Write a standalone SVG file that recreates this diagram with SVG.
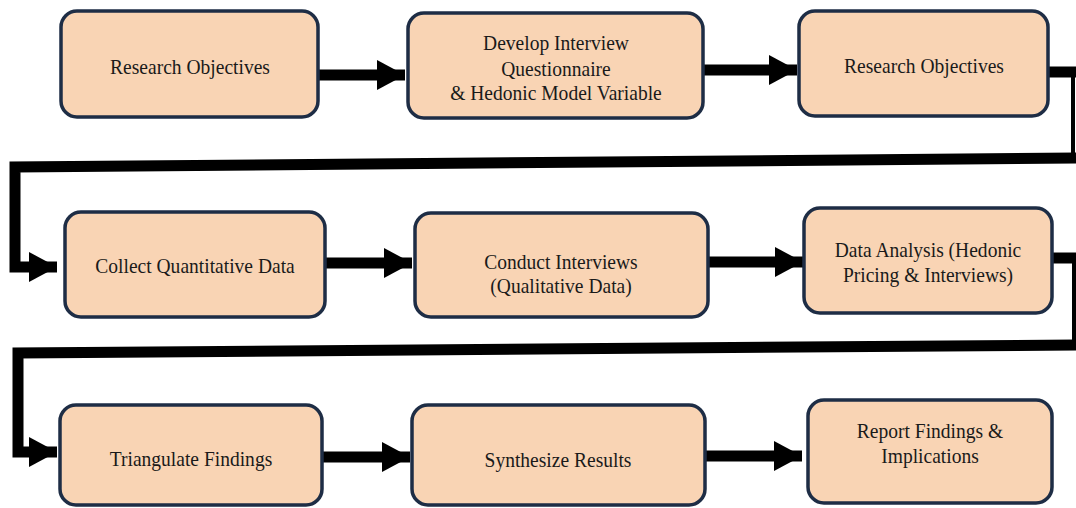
<svg xmlns="http://www.w3.org/2000/svg" width="1076" height="508" viewBox="0 0 1076 508">
<style>
.box{fill:#F9D4B4;stroke:#1E2D45;stroke-width:3.5}
.t{font-size:21px;fill:#1a1a1a;text-anchor:middle}
.c{fill:none;stroke:#000;stroke-width:11;stroke-linejoin:miter}
.thin{fill:none;stroke:#000;stroke-width:4}
</style>
<defs>
<marker id="ah" markerUnits="userSpaceOnUse" markerWidth="28" markerHeight="30" viewBox="0 0 28 30" refX="28" refY="15" orient="auto">
<path d="M0,0 L28,15 L0,30 Z" fill="#000"/>
</marker>
</defs>
<rect width="1076" height="508" fill="#fff"/>
<g id="connectors">
<path class="c" d="M318,75 H405" marker-end="url(#ah)"/>
<path class="c" d="M703,70 H797" marker-end="url(#ah)"/>
<path class="c" d="M1048,72 H1076"/>
<path class="thin" d="M1073,72 V158"/>
<path class="c" d="M1076,158 L15,167 V267 H57" marker-end="url(#ah)"/>
<path class="c" d="M325,263 H412" marker-end="url(#ah)"/>
<path class="c" d="M708,262 H803" marker-end="url(#ah)"/>
<path class="c" d="M1052,258 H1076"/>
<path class="thin" d="M1074,258 V345"/>
<path class="c" d="M1076,345 L18,353 V452 H57" marker-end="url(#ah)"/>
<path class="c" d="M322,457 H410" marker-end="url(#ah)"/>
<path class="c" d="M705,456 H802" marker-end="url(#ah)"/>
</g>
<g font-family="Liberation Serif, Times New Roman, serif">
<g id="n1"><rect class="box" x="61" y="11" width="257" height="106" rx="16"/><g transform="translate(190,0) scale(0.93,1)"><text class="t" x="0" y="74">Research Objectives</text></g></g>
<g id="n2"><rect class="box" x="408" y="13" width="295" height="105" rx="16"/><g transform="translate(556,0) scale(0.93,1)"><text class="t" x="0" y="50">Develop Interview</text><text class="t" x="0" y="76">Questionnaire</text><text class="t" x="0" y="100">&amp; Hedonic Model Variable</text></g></g>
<g id="n3"><rect class="box" x="799" y="11" width="249" height="105" rx="16"/><g transform="translate(924,0) scale(0.93,1)"><text class="t" x="0" y="73">Research Objectives</text></g></g>
<g id="n4"><rect class="box" x="65" y="212" width="260" height="105" rx="16"/><g transform="translate(195,0) scale(0.93,1)"><text class="t" x="0" y="273">Collect Quantitative Data</text></g></g>
<g id="n5"><rect class="box" x="415" y="213" width="293" height="104" rx="16"/><g transform="translate(561,0) scale(0.93,1)"><text class="t" x="0" y="269">Conduct Interviews</text><text class="t" x="0" y="293">(Qualitative Data)</text></g></g>
<g id="n6"><rect class="box" x="804" y="208" width="248" height="105" rx="16"/><g transform="translate(928,0) scale(0.93,1)"><text class="t" x="0" y="257">Data Analysis (Hedonic</text><text class="t" x="0" y="282">Pricing &amp; Interviews)</text></g></g>
<g id="n7"><rect class="box" x="60" y="405" width="262" height="100" rx="16"/><g transform="translate(191,0) scale(0.93,1)"><text class="t" x="0" y="466">Triangulate Findings</text></g></g>
<g id="n8"><rect class="box" x="412" y="405" width="293" height="100" rx="16"/><g transform="translate(558,0) scale(0.93,1)"><text class="t" x="0" y="467">Synthesize Results</text></g></g>
<g id="n9"><rect class="box" x="808" y="400" width="244" height="103" rx="16"/><g transform="translate(930,0) scale(0.93,1)"><text class="t" x="0" y="438">Report Findings &amp;</text><text class="t" x="0" y="463">Implications</text></g></g>
</g>
</svg>
